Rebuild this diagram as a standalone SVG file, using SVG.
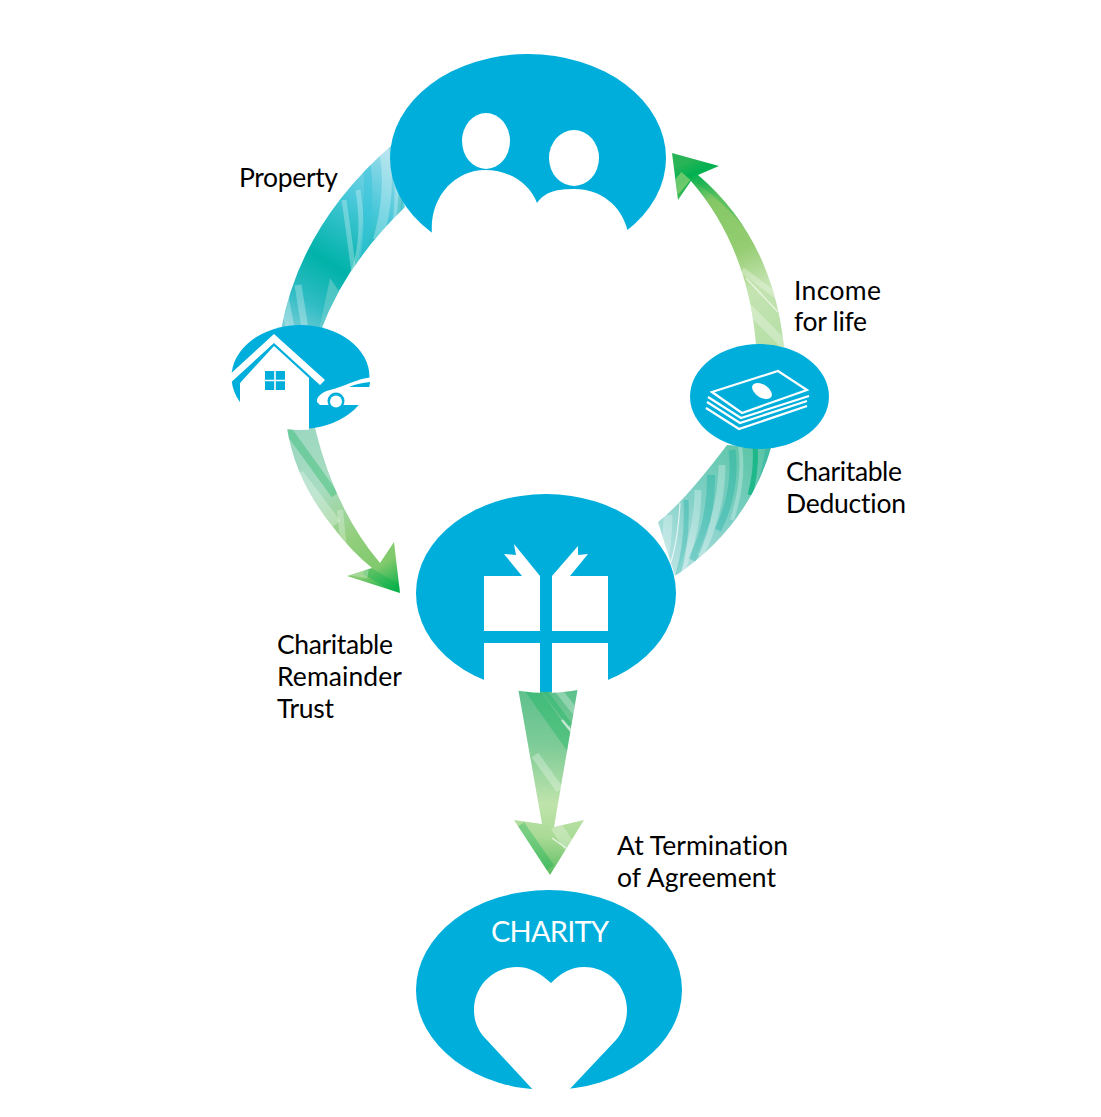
<svg xmlns="http://www.w3.org/2000/svg" width="1101" height="1117" viewBox="0 0 1101 1117">
<style>
.blue{fill:#00aedb}
.w{fill:#fff}
.lbl{font-family:"Lato","Liberation Sans",sans-serif;font-size:26.5px;fill:#000;font-variant-ligatures:none}
.sw{fill:none;stroke:#fff;stroke-opacity:.28}
.st{fill:none;stroke:#00a99d;stroke-opacity:.3}
.sg{fill:none;stroke:#00b050;stroke-opacity:.3}
.sb{fill:none;stroke:#35c3dc;stroke-opacity:.5}
.bill{fill:none;stroke:#fff;stroke-width:2.2}
</style>
<defs>
<linearGradient id="g1" gradientUnits="userSpaceOnUse" x1="400" y1="150" x2="290" y2="335">
<stop offset="0" stop-color="#a5deec"/><stop offset=".3" stop-color="#4ac8da"/><stop offset=".62" stop-color="#00b2a9"/><stop offset=".82" stop-color="#2fbcc4"/><stop offset="1" stop-color="#7fd0d8"/>
</linearGradient>
<linearGradient id="g2" gradientUnits="userSpaceOnUse" x1="770" y1="350" x2="680" y2="165">
<stop offset="0" stop-color="#b5dfa6"/><stop offset=".3" stop-color="#c5e4b2"/><stop offset=".5" stop-color="#95cd72"/><stop offset=".78" stop-color="#84c765"/><stop offset=".93" stop-color="#00b050"/><stop offset="1" stop-color="#28b457"/>
</linearGradient>
<linearGradient id="g3" gradientUnits="userSpaceOnUse" x1="760" y1="450" x2="660" y2="570">
<stop offset="0" stop-color="#5cc5a6"/><stop offset=".5" stop-color="#7fd0c6"/><stop offset="1" stop-color="#bfe5e6"/>
</linearGradient>
<linearGradient id="g4" gradientUnits="userSpaceOnUse" x1="295" y1="430" x2="395" y2="590">
<stop offset="0" stop-color="#9cd7c1"/><stop offset=".35" stop-color="#a8dcc0"/><stop offset=".62" stop-color="#95cf80"/><stop offset=".85" stop-color="#80c96c"/><stop offset="1" stop-color="#0db14b"/>
</linearGradient>
<linearGradient id="g5" gradientUnits="userSpaceOnUse" x1="555" y1="688" x2="545" y2="875">
<stop offset="0" stop-color="#5cc08c"/><stop offset=".3" stop-color="#7ccb97"/><stop offset=".62" stop-color="#bfe3ab"/><stop offset=".8" stop-color="#a9da95"/><stop offset="1" stop-color="#5cbd62"/>
</linearGradient>
<clipPath id="c1"><path d="M392,145Q300,225 281,330L321,330Q345,265 405,207Z"/></clipPath>
<clipPath id="c2"><path d="M672,153L719,166L698,175Q773,239 784,347L756,345Q748,247 691,181L678,200Z"/></clipPath>
<clipPath id="c3"><path d="M771,448Q747,528 675,576L658,522Q684,502 727,445Z"/></clipPath>
<clipPath id="c4"><path d="M287,428Q295,480 333,527Q350,550 372,568L347,576L400,593L394,542L380,563Q335,510 315,428Z"/></clipPath>
<clipPath id="c5"><path d="M518,688Q548,694 578,687L554,827L584,820L550,875L514,820L542,824Z"/></clipPath>
<clipPath id="e2"><ellipse cx="300.5" cy="377" rx="70" ry="53"/></clipPath>
<clipPath id="e4"><ellipse cx="546" cy="593" rx="131" ry="100"/></clipPath>
</defs>
<g id="connectors">
<g id="arrow-property">
<path d="M392,145Q300,225 281,330L321,330Q345,265 405,207Z" fill="url(#g1)"/>
<g clip-path="url(#c1)">
<path class="sw" stroke-width="10" d="M384,150Q392,190 378,240"/>
<path class="sw" stroke-width="7" d="M394,155Q402,190 394,235"/>
<path class="sw" stroke-width="5" d="M344,200Q350,240 354,275"/>
<path class="sw" stroke-width="5" d="M358,190Q366,240 352,275"/>
<path class="sb" stroke-width="8" d="M366,160Q372,200 362,260"/>
<path class="st" stroke-width="5" d="M401,170Q402,200 398,225"/>
<path class="sw" stroke-width="7" d="M298,285Q302,310 306,335"/>
<path class="sw" stroke-width="9" d="M284,295Q288,320 292,335"/>
<path fill="#7fd4cf" fill-opacity=".5" d="M330,278L318,335L345,300Z"/>
</g>
</g>
<g id="arrow-income">
<path d="M672,153L719,166L698,175Q773,239 784,347L756,345Q748,247 691,181L678,200Z" fill="url(#g2)"/>
<g clip-path="url(#c2)">
<path stroke="#a8d87f" stroke-opacity=".6" fill="none" stroke-width="12" d="M674,190L686,176"/>
<path class="sw" stroke-width="1.5" style="stroke-opacity:.6" d="M746,278L778,312"/>
<path class="sw" stroke-width="9" d="M745,305L785,345"/>
<path class="sw" stroke-width="6" d="M742,270L785,302"/>
<path class="sg" stroke-width="12" d="M700,178Q730,200 750,225"/>
</g>
</g>
<g id="arrow-deduction">
<path d="M771,448Q747,528 675,576L658,522Q684,502 727,445Z" fill="url(#g3)"/>
<g clip-path="url(#c3)">
<path class="st" stroke-width="5" d="M768,445Q765,480 748,510"/>
<path style="stroke:#00b27a;stroke-opacity:.7" fill="none" stroke-width="5" d="M755,445Q757,470 750,495"/>
<path class="sw" stroke-width="4" d="M740,445Q745,480 732,520"/>
<path class="sw" stroke-width="7" d="M722,465Q722,510 700,556"/>
<path class="st" stroke-width="7" d="M732,450Q737,490 718,530"/>
<path class="st" stroke-width="8" d="M711,475Q712,520 692,560"/>
<path class="sw" stroke-width="7" d="M698,490Q698,530 680,575"/>
<path class="st" stroke-width="5" d="M686,500Q688,540 678,575"/>
<path class="sw" stroke-width="1.2" style="stroke-opacity:.7" d="M680,503Q678,540 671,562"/>
<path class="sw" stroke-width="9" d="M668,515Q668,540 662,570"/>
</g>
</g>
<g id="arrow-remainder">
<path d="M287,428Q295,480 333,527Q350,550 372,568L347,576L400,593L394,542L380,563Q335,510 315,428Z" fill="url(#g4)"/>
<g clip-path="url(#c4)">
<path class="sw" stroke-width="14" d="M297,475L335,525"/>
<path class="sg" stroke-width="8" d="M288,430L335,495"/>
<path class="sg" stroke-width="9" d="M365,570L400,590"/>
<path class="sw" stroke-width="9" d="M345,570L368,574"/>
<path class="sw" stroke-width="6" d="M340,510L345,560"/>
</g>
</g>
<g id="arrow-termination">
<path d="M518,688Q548,694 578,687L554,827L584,820L550,875L514,820L542,824Z" fill="url(#g5)"/>
<g clip-path="url(#c5)">
<path class="sg" stroke-width="13" d="M525,680L578,755"/>
<path class="sg" stroke-width="5" d="M540,685L570,725"/>
<path class="sw" stroke-width="7" d="M558,690L578,715"/>
<path class="sw" stroke-width="2.5" style="stroke-opacity:.6" d="M562,720L572,732"/>
<path class="sw" stroke-width="8" d="M535,755L560,790"/>
<path class="sg" stroke-width="10" d="M520,825L550,868"/>
<path class="sw" stroke-width="1.5" style="stroke-opacity:.7" d="M552,838L566,848"/>
<path class="sw" stroke-width="12" d="M556,826L575,855"/>
</g>
</g>
</g>
<g id="node-family">
<ellipse class="blue" cx="528" cy="158" rx="138" ry="104"/>
<ellipse class="w" cx="486" cy="141" rx="24" ry="28"/>
<ellipse class="w" cx="574" cy="158" rx="25" ry="28"/>
<path class="w" d="M432,234C429,197 455,170 485,170C510,170 530,184 537,203C545,192 555,189 575,189C600,189 622,205 628,232L640,268H420Z"/>
</g>
<g id="node-property">
<ellipse class="blue" cx="300.5" cy="377" rx="69" ry="52"/>
<g clip-path="url(#e2)">
<path class="w" d="M228,376L274,334L325,380L320,385L274,343L228,385Z"/>
<path class="w" d="M240,383L274,346L309,378V432H240Z"/>
<path class="blue" d="M265,371H285V390H265Z"/>
<path class="w" d="M274.2,371h1.6v19h-1.6zM265,379.7h20v1.6h-20z"/>
<path class="w" d="M372,377C356,379 345,386 330,390C322,392 316,397 317,402L320,405H372Z"/>
<path class="blue" d="M349,387C356,384 362,383 370,382V387Z"/>
<circle class="blue" cx="336" cy="401" r="8.5"/>
<circle class="w" cx="336" cy="401.5" r="6"/>
</g>
</g>
<g id="node-money">
<ellipse class="blue" cx="759.5" cy="396.5" rx="69.5" ry="52.5"/>
<path class="bill" d="M712,392L778,371L807,390L742,413Z"/>
<ellipse class="w" cx="762" cy="391" rx="11" ry="6.5" transform="rotate(33 762 391)"/>
<path class="bill" d="M708,397L741,418L809,396"/>
<path class="bill" d="M707,402L740,423L807,401"/>
<path class="bill" d="M706,408L739,429L807,406"/>
</g>
<g id="node-trust">
<ellipse class="blue" cx="546" cy="593" rx="130" ry="99"/>
<g clip-path="url(#e4)">
<path class="w" d="M484,576H540V631H484ZM552,576H608V631H552ZM484,643H540V700H484ZM552,643H608V700H552Z"/>
</g>
<path class="w" d="M540,576L514,544L516,555L504,554L522,576Z"/>
<path class="w" d="M552,576L578,546L578,555L588,554L570,576Z"/>
</g>
<g id="node-charity">
<ellipse class="blue" cx="549" cy="990" rx="133" ry="100"/>
<path class="w" d="M551,983C540,973 530,967 517,967C493,967 474,986 474,1010C474,1021 478,1031 485,1038L535,1092H567L616,1040C623,1032 627,1021 627,1010C627,986 608,967 584,967C571,967 561,973 551,983Z"/>
<text x="491" y="942" textLength="118" style="font-family:'Lato','Liberation Sans',sans-serif;font-size:29px;fill:#fff">CHARITY</text>
</g>
<g id="labels">
<text class="lbl" x="239" y="187" textLength="99">Property</text>
<text class="lbl" x="794" y="300" textLength="87">Income</text>
<text class="lbl" x="794" y="331" textLength="73">for life</text>
<text class="lbl" x="786" y="481" textLength="116">Charitable</text>
<text class="lbl" x="786" y="513" textLength="120">Deduction</text>
<text class="lbl" x="277" y="654" textLength="116">Charitable</text>
<text class="lbl" x="277" y="686" textLength="125">Remainder</text>
<text class="lbl" x="277" y="718" textLength="57">Trust</text>
<text class="lbl" x="617" y="855" textLength="171">At Termination</text>
<text class="lbl" x="617" y="887" textLength="159">of Agreement</text>
</g>
</svg>
